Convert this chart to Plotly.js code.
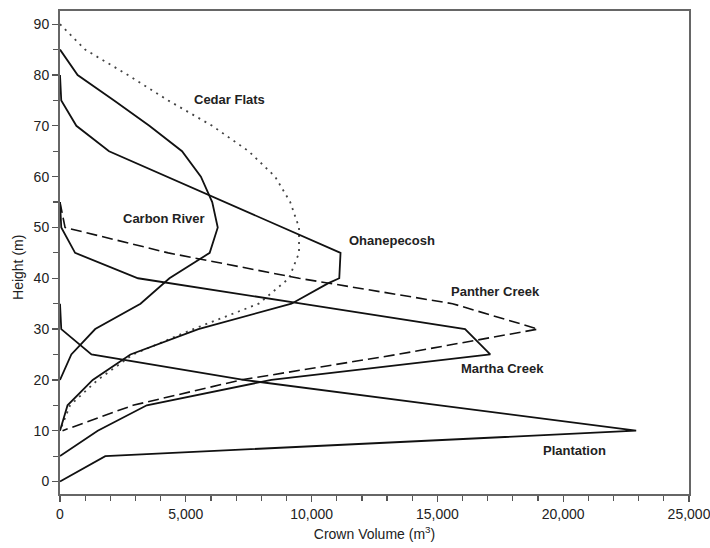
<!DOCTYPE html>
<html>
<head>
<meta charset="utf-8">
<script src="https://cdn.plot.ly/plotly-3.0.1.min.js"></script>
<style>
  html, body { margin: 0; padding: 0; background: #fff; }
  #chart { width: 710px; height: 548px; }
</style>
</head>
<body>
<div id="chart"></div>
<script>
// ---- Data (height in m, crown volume in m^3) ----
var cedarFlatsHeight  = [90, 85, 80, 75, 70, 65, 60, 55, 50, 45, 40, 35, 30, 25, 20, 15, 10];
var cedarFlatsVolume  = [0, 1000, 2700, 4300, 6050, 7500, 8550, 9150, 9500, 9500, 9100, 7900, 5300, 2900, 1500, 400, 0];

var carbonRiverHeight = [85, 80, 75, 70, 65, 60, 55, 50, 45, 40, 35, 30, 25, 20];
var carbonRiverVolume = [0, 700, 2150, 3550, 4850, 5600, 6050, 6270, 5950, 4350, 3200, 1400, 450, 0];

var ohanepecoshHeight = [80, 75, 70, 65, 45, 40, 39, 35, 30, 25, 20, 15, 10];
var ohanepecoshVolume = [0, 50, 650, 1950, 11150, 11100, 10650, 9200, 5500, 2800, 1300, 300, 0];

var pantherCreekHeight = [55, 50, 45, 40, 35, 30, 25, 20, 15, 10];
var pantherCreekVolume = [0, 200, 4300, 9500, 15600, 19000, 13400, 7200, 2900, 100];

var marthaCreekHeight = [55, 50, 45, 40, 35, 30, 25, 20, 15, 10, 5];
var marthaCreekVolume = [0, 50, 600, 3100, 9600, 16100, 17100, 8400, 3450, 1500, 0];

var plantationHeight  = [35, 30, 25, 20, 15, 10, 5, 0];
var plantationVolume  = [0, 50, 1250, 7300, 15100, 22900, 1800, 0];

var siteNames = ["Cedar Flats", "Carbon River", "Ohanepecosh", "Panther Creek", "Martha Creek", "Plantation"];

var xTitle = "Crown Volume (m<sup>3</sup>)";
var yTitle = "Height (m)";

// ---- Build traces ----
var FONT = "Liberation Sans, Arial, Helvetica, sans-serif";
var solid = {color: "#111", width: 1.8};

var traces = [
  {x: cedarFlatsVolume, y: cedarFlatsHeight, name: siteNames[0],
   line: {color: "#444", width: 1.8, dash: "2px,5px"}},
  {x: carbonRiverVolume, y: carbonRiverHeight, name: siteNames[1], line: solid},
  {x: ohanepecoshVolume, y: ohanepecoshHeight, name: siteNames[2], line: solid},
  {x: pantherCreekVolume, y: pantherCreekHeight, name: siteNames[3],
   line: {color: "#111", width: 1.6, dash: "11px,5px"}},
  {x: marthaCreekVolume, y: marthaCreekHeight, name: siteNames[4], line: solid},
  {x: plantationVolume, y: plantationHeight, name: siteNames[5], line: solid}
].map(function (t) {
  t.type = "scatter"; t.mode = "lines"; t.hoverinfo = "skip"; t.cliponaxis = true;
  return t;
});

function lab(text, x, y, anchor) {
  return {text: "<b>" + text + "</b>", x: x, y: y, xref: "x", yref: "y",
          showarrow: false, xanchor: anchor || "center", yanchor: "middle",
          font: {family: FONT, size: 13, color: "#222"}};
}

var annotations = [
  lab(siteNames[0], 6740, 75.2),
  lab(siteNames[1], 4150, 51.8),
  lab(siteNames[2], 11400, 47.5, "left"),
  lab(siteNames[3], 17300, 37.4),
  lab(siteNames[4], 17600, 22.3),
  lab(siteNames[5], 20450, 6.2),
  {text: yTitle, xref: "paper", yref: "paper", x: -0.0668, y: 0.47,
   showarrow: false, textangle: -90, xanchor: "center", yanchor: "middle",
   font: {family: FONT, size: 14, color: "#222"}}
];

var axisCommon = {
  showgrid: false, zeroline: false,
  showline: true, linecolor: "#666", linewidth: 2, mirror: true,
  ticks: "outside", ticklen: 6, tickwidth: 1.3, tickcolor: "#555",
  ticklabeloverflow: "allow",
  tickfont: {family: FONT, size: 14, color: "#222"}
};

var layout = {
  width: 710, height: 548,
  margin: {l: 60, r: 21, t: 11, b: 54},
  paper_bgcolor: "#fff", plot_bgcolor: "#fff",
  showlegend: false,
  font: {family: FONT, color: "#222"},
  xaxis: Object.assign({}, axisCommon, {
    range: [0, 25000], dtick: 5000, tick0: 0, tickformat: ",d",
    minor: {dtick: 1000, ticks: "outside", ticklen: 5, tickwidth: 1.2, tickcolor: "#555"},
    title: {text: xTitle, standoff: 8, font: {family: FONT, size: 14, color: "#222"}}
  }),
  yaxis: Object.assign({}, axisCommon, {
    range: [-2.46, 92.6], dtick: 10, tick0: 0,
    minor: {dtick: 5, ticks: "outside", ticklen: 5, tickwidth: 1.2, tickcolor: "#555"}
  }),
  annotations: annotations
};

Plotly.newPlot("chart", traces, layout, {staticPlot: true, displayModeBar: false});
</script>
</body>
</html>
